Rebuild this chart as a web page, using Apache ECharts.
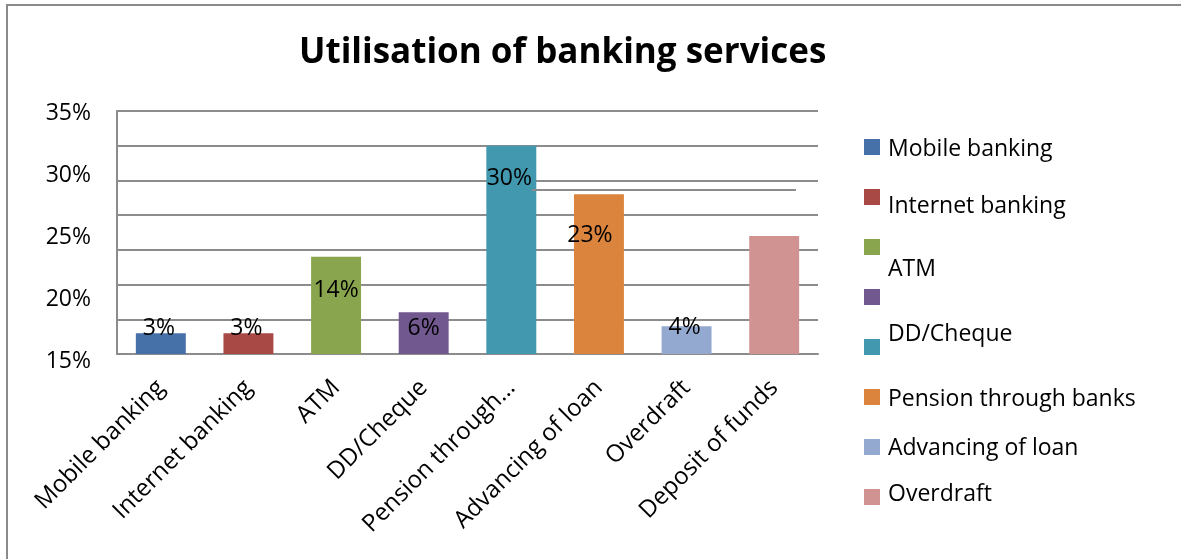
<!DOCTYPE html>
<html>
<head>
<meta charset="utf-8">
<style>
  html, body { margin: 0; padding: 0; background: #fff; }
  #chart { width: 1181px; height: 559px; }
</style>
<script src="https://cdn.jsdelivr.net/npm/echarts@6/dist/echarts.min.js"></script>
</head>
<body>
<div id="chart"></div>
<script>
// Services and the share of respondents using each one (%)
const categories = ['Mobile banking', 'Internet banking', 'ATM', 'DD/Cheque',
  'Pension through banks', 'Advancing of loan', 'Overdraft', 'Deposit of funds'];
const values = [3, 3, 14, 6, 30, 23, 4, 17];
const barColors = ['#4670A8', '#A84946', '#89A54E', '#71588F',
  '#4198AF', '#DB843D', '#93A9CF', '#D19392'];

// Tick labels printed beside the value axis
const valueTickLabels = ['15%', '20%', '25%', '30%', '35%'];

// Legend captions as printed (the last swatch carries no caption)
const legendCaptions = categories.slice(0, 7);

// Label nudges [dx, dy] relative to the inside-top position; null = no label
const labelNudge = [[-2, -16], [-2, -16], [0, 22], [0, 5], [-2, 21], [-9, 30], [-2, -10], null];
// Vertical centres of the legend captions
const captionY = [149, 206, 269, 334, 399, 448, 494];

const FONT = '"Open Sans", "Noto Sans", sans-serif';
const GRID_GRAY = '#8c8c8c';

const series = categories.map((name, i) => ({
  name: name,
  type: 'bar',
  stack: 'all',
  barWidth: '57%',
  xAxisIndex: 0,
  yAxisIndex: 0,
  data: categories.map((_, j) => (j === i ? values[i] : '-')),
  itemStyle: { color: barColors[i] },
  label: {
    show: labelNudge[i] !== null,
    position: 'insideTop',
    distance: 0,
    offset: labelNudge[i] || [0, 0],
    formatter: '{c}%',
    fontFamily: FONT,
    fontSize: 23,
    color: '#000'
  }
}));

const captionGraphics = legendCaptions.map((txt, i) => ({
  type: 'text',
  left: 888,
  top: captionY[i] - 11,
  style: { text: txt, font: '23px ' + FONT, fill: '#000' }
}));

const chart = echarts.init(document.getElementById('chart'));
chart.setOption({
  animation: false,
  backgroundColor: '#fff',
  title: {
    text: 'Utilisation of banking services',
    left: 299,
    top: 36,
    padding: 0,
    textStyle: { fontFamily: FONT, fontWeight: 'bold', fontSize: 35, color: '#000' }
  },
  grid: [
    { left: 117, right: 363, top: 111, bottom: 205 },
    { left: 117, right: 363, top: 113, bottom: 198 }
  ],
  xAxis: [
    {
      type: 'category',
      gridIndex: 0,
      data: categories,
      axisLine: { show: true, lineStyle: { color: GRID_GRAY, width: 2 } },
      axisTick: { show: false },
      axisLabel: {
        interval: 0,
        rotate: 45,
        margin: 30,
        fontFamily: FONT,
        fontSize: 24,
        color: '#000',
        formatter: (v) => (v.length > 20 ? v.slice(0, 15) + '…' : v)
      }
    },
    { type: 'category', gridIndex: 1, data: categories, show: false }
  ],
  yAxis: [
    {
      type: 'value',
      gridIndex: 0,
      min: 0,
      max: 35,
      interval: 5,
      axisLine: { show: true, lineStyle: { color: GRID_GRAY, width: 2 } },
      axisTick: { show: false },
      axisLabel: { show: false },
      splitLine: { show: true, lineStyle: { color: GRID_GRAY, width: 2 } }
    },
    {
      type: 'value',
      gridIndex: 1,
      min: 15,
      max: 35,
      interval: 5,
      axisLine: { show: false },
      axisTick: { show: false },
      splitLine: { show: false },
      axisLabel: {
        margin: 26,
        fontFamily: FONT,
        fontSize: 23,
        color: '#000',
        formatter: (v) => valueTickLabels[Math.round((v - 15) / 5)]
      }
    }
  ],
  legend: {
    orient: 'vertical',
    left: 864,
    top: 139,
    padding: 0,
    itemWidth: 16,
    itemHeight: 16,
    itemGap: 34,
    icon: 'rect',
    selectedMode: false,
    data: categories,
    formatter: () => '',
    textStyle: { fontSize: 10 }
  },
  graphic: [
    {
      type: 'rect',
      shape: { x: 7, y: 5, width: 1400, height: 800 },
      style: { fill: 'none', stroke: '#8a8a8a', lineWidth: 2 },
      z: 100
    },
    {
      type: 'line',
      shape: { x1: 532, y1: 190, x2: 796, y2: 190 },
      style: { stroke: GRID_GRAY, lineWidth: 2 },
      z: 100
    }
  ].concat(captionGraphics),
  series: series
});
</script>
</body>
</html>
